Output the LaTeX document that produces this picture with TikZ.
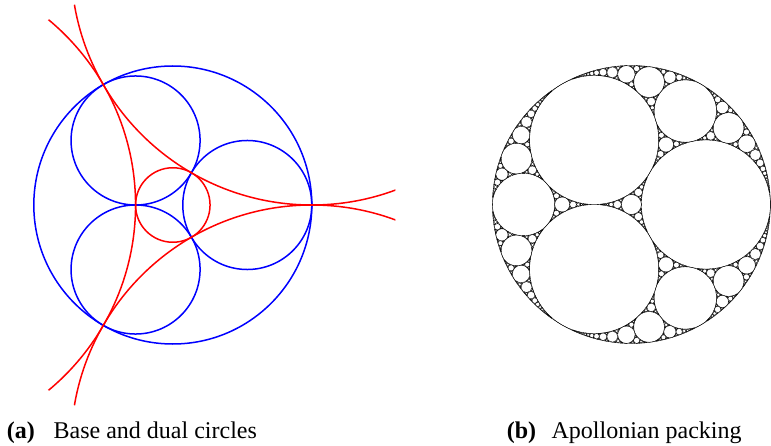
\documentclass[tikz,border=0pt]{standalone}
\usepackage{fontspec}
\setmainfont{Liberation Serif}
\usetikzlibrary{positioning}
\definecolor{baseBlue}{RGB}{0,0,255}
\definecolor{dualRed}{RGB}{255,0,0}

\ExplSyntaxOn
\fp_new:N \l_apol_k_fp
\fp_new:N \l_apol_kmax_fp
\fp_new:N \l_apol_cx_fp
\fp_new:N \l_apol_cy_fp
\fp_new:N \l_apol_R_fp
\tl_new:N \l_apol_new_tl
\tl_new:N \l_apol_x_tl
\tl_new:N \l_apol_y_tl
\tl_new:N \l_apol_r_tl
% a circle is {k}{k*x}{k*y}, unit outer circle
\cs_new_protected:Npn \apol_circle:nnn #1#2#3
  {
    \tl_set:Nx \l_apol_x_tl { \fp_eval:n { \l_apol_cx_fp + \l_apol_R_fp * (#2) / (#1) } }
    \tl_set:Nx \l_apol_y_tl { \fp_eval:n { \l_apol_cy_fp + \l_apol_R_fp * (#3) / (#1) } }
    \tl_set:Nx \l_apol_r_tl { \fp_eval:n { \l_apol_R_fp / abs(#1) } }
    \pgfpathcircle { \pgfpoint { \l_apol_x_tl pt } { \l_apol_y_tl pt } } { \l_apol_r_tl pt }
    \pgfusepath { stroke }
  }
\cs_new_protected:Npn \apol_gap:nnnn #1#2#3#4
  {
    \fp_set:Nn \l_apol_k_fp
      { 2 * ( ( \use_i:nnn #1 ) + ( \use_i:nnn #2 ) + ( \use_i:nnn #3 ) ) - ( \use_i:nnn #4 ) }
    \fp_compare:nNnT \l_apol_k_fp < \l_apol_kmax_fp
      {
        \tl_set:Nx \l_apol_new_tl
          {
            { \fp_use:N \l_apol_k_fp }
            { \fp_eval:n { 2 * ( ( \use_ii:nnn #1 ) + ( \use_ii:nnn #2 ) + ( \use_ii:nnn #3 ) ) - ( \use_ii:nnn #4 ) } }
            { \fp_eval:n { 2 * ( ( \use_iii:nnn #1 ) + ( \use_iii:nnn #2 ) + ( \use_iii:nnn #3 ) ) - ( \use_iii:nnn #4 ) } }
          }
        \exp_last_unbraced:No \apol_circle:nnn \l_apol_new_tl
        \exp_args:No \apol_split:nnnn { \l_apol_new_tl } {#1} {#2} {#3}
      }
  }
\cs_new_protected:Npn \apol_split:nnnn #1#2#3#4
  {
    \apol_gap:nnnn {#1} {#2} {#3} {#4}
    \apol_gap:nnnn {#1} {#2} {#4} {#3}
    \apol_gap:nnnn {#1} {#3} {#4} {#2}
  }
\NewDocumentCommand \ApolPacking { m m m m }
  {
    \fp_set:Nn \l_apol_cx_fp {#1}
    \fp_set:Nn \l_apol_cy_fp {#2}
    \fp_set:Nn \l_apol_R_fp {#3}
    \fp_set:Nn \l_apol_kmax_fp {#4}
    \apol_circle:nnn {-1} {0} {0}
    \apol_circle:nnn {2.1547005383792515} {1.1547005383792515} {0}
    \apol_circle:nnn {2.1547005383792515} {-0.5773502691896258} {1}
    \apol_circle:nnn {2.1547005383792515} {-0.5773502691896258} {-1}
    \apol_gap:nnnn
      { {2.1547005383792515} {1.1547005383792515} {0} }
      { {2.1547005383792515} {-0.5773502691896258} {1} }
      { {2.1547005383792515} {-0.5773502691896258} {-1} }
      { {-1} {0} {0} }
    \apol_gap:nnnn
      { {-1} {0} {0} }
      { {2.1547005383792515} {1.1547005383792515} {0} }
      { {2.1547005383792515} {-0.5773502691896258} {1} }
      { {2.1547005383792515} {-0.5773502691896258} {-1} }
    \apol_gap:nnnn
      { {-1} {0} {0} }
      { {2.1547005383792515} {1.1547005383792515} {0} }
      { {2.1547005383792515} {-0.5773502691896258} {-1} }
      { {2.1547005383792515} {-0.5773502691896258} {1} }
    \apol_gap:nnnn
      { {-1} {0} {0} }
      { {2.1547005383792515} {-0.5773502691896258} {1} }
      { {2.1547005383792515} {-0.5773502691896258} {-1} }
      { {2.1547005383792515} {1.1547005383792515} {0} }
  }
\ExplSyntaxOff

\begin{document}
\begin{tikzpicture}[x=1pt,y=1pt,
    base/.style={draw=baseBlue,line width=1.5pt},
    dual/.style={draw=dualRed,line width=1.5pt},
    pack/.style={line width=0.35pt,black},
    tag/.style={font=\fontsize{24}{28}\selectfont\bfseries,inner sep=0pt,anchor=base west},
    caption/.style={font=\fontsize{24}{28}\selectfont,inner sep=0pt}
  ]
  \useasboundingbox (0,0) rectangle (771,445);
  \coordinate (oa) at (172.8,240);
  \coordinate (ob) at (631.4,240.5);

  % base circles
  \draw[base] (oa) circle [radius=139pt];
  \foreach \a in {0,120,240}
    \draw[base] ([shift={(\a:74.49pt)}]oa) circle [radius=64.51pt];

  % dual circles
  \begin{scope}
    \clip (oa) circle [radius=223.1pt];
    \draw[dual] (oa) circle [radius=37.25pt];
    \foreach \a in {60,180,300}
      \draw[dual] ([shift={(\a:278pt)}]oa) circle [radius=240.76pt];
  \end{scope}

  % packing
  \begin{scope}[pack]
    \ApolPacking{631.4}{240.5}{139}{450}
  \end{scope}

  \node[tag] (taga) at (6.7,7) {(a)};
  \node[caption,base right=18.4pt of taga] (capa) {Base and dual circles};
  \node[tag] (tagb) at (506.7,7) {(b)};
  \node[caption,base right=15pt of tagb] (capb) {Apollonian packing};
\end{tikzpicture}
\end{document}
